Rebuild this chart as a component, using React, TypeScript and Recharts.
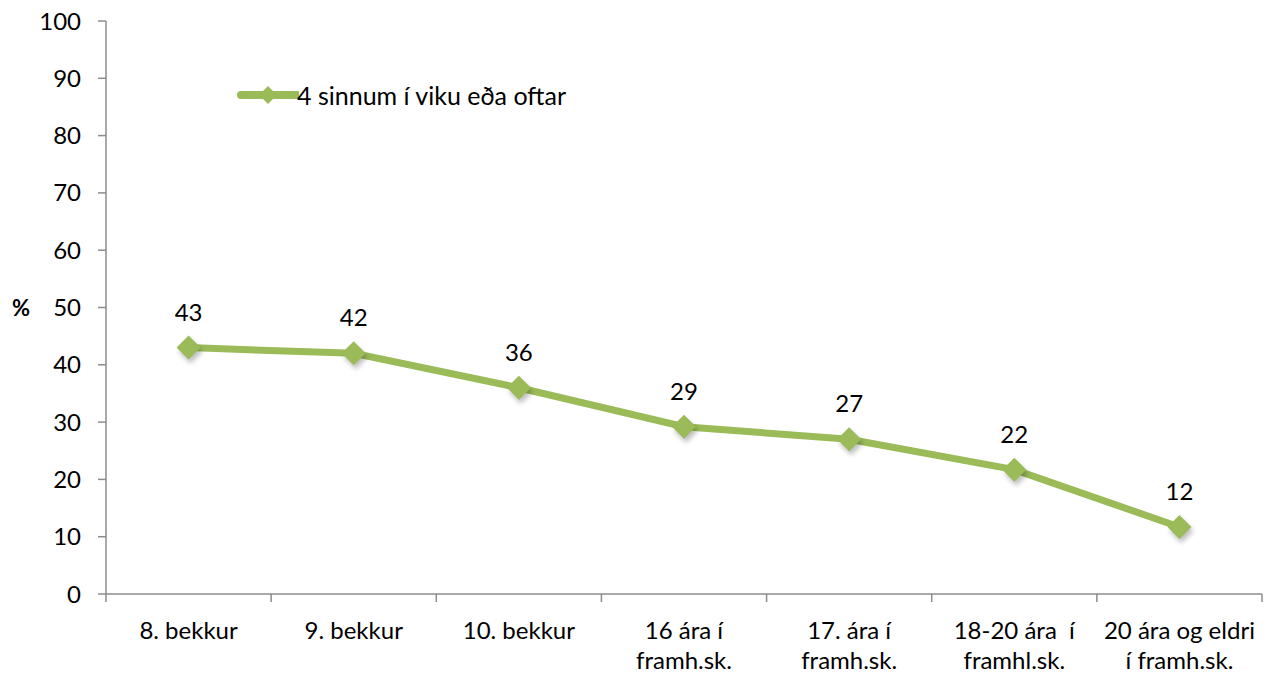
import React from "react";
import { LineChart, Line, XAxis, YAxis, LabelList, Label } from "recharts";

const categories = [
  "8. bekkur",
  "9. bekkur",
  "10. bekkur",
  "16 ára í\nframh.sk.",
  "17. ára í\nframh.sk.",
  "18-20 ára  í\nframhl.sk.",
  "20 ára og eldri\ní framh.sk.",
];
const values = [43, 42, 36, 29.2, 27, 21.7, 11.7];
const yTicks = [0, 10, 20, 30, 40, 50, 60, 70, 80, 90, 100];
const seriesName = "4 sinnum í viku eða oftar";

const GREEN = "#9BBB59";
const AXIS = "#8c8c8c";
const FONT = "Lato, 'Open Sans', sans-serif";
const FS = 24;

const W = 1274;
const H = 673;
const M = { top: 21, right: 12, left: 0, bottom: 0 };
const Y_W = 106;
const BAND = (W - M.left - M.right - Y_W) / categories.length;

// x position = middle of each category band on a 0..N numeric axis
const data = categories.map((name, i) => ({ name, pos: i + 0.5, value: values[i] }));
const boundaryTicks = categories.map((_, i) => i).concat(categories.length);

const Diamond = ({ cx, cy }: any) => {
  if (cx == null || cy == null) return null;
  const r = 12;
  return (
    <g>
      <polygon
        points={`${cx + 2},${cy - r + 4} ${cx + r + 2},${cy + 4} ${cx + 2},${cy + r + 4} ${cx - r + 2},${cy + 4}`}
        fill="#000"
        opacity={0.25}
        filter="url(#blur)"
      />
      <polygon
        points={`${cx},${cy - r} ${cx + r},${cy} ${cx},${cy + r} ${cx - r},${cy}`}
        fill={GREEN}
      />
    </g>
  );
};

const CatTick = ({ x, y, payload }: any) => {
  const idx = Number(payload.value);
  if (idx >= categories.length) return null;
  const cx = x + BAND / 2;
  const lines = categories[idx].split("\n");
  return (
    <text x={cx} y={y} textAnchor="middle" fontSize={FS} fill="#000" fontFamily={FONT}>
      {lines.map((l, i) => (
        <tspan key={i} x={cx} dy={i === 0 ? 35 : 30} style={{ whiteSpace: "pre" }}>
          {l}
        </tspan>
      ))}
    </text>
  );
};

const PercentLabel = ({ viewBox }: any) => {
  const y = viewBox.y + viewBox.height / 2;
  return (
    <text x={21} y={y} dy={8} textAnchor="middle" fontSize={22} fontWeight={700} fill="#000" fontFamily={FONT}>
      %
    </text>
  );
};

export default function App() {
  return (
    <div style={{ position: "absolute", left: 0, top: 0, width: W, height: H, background: "#fff" }}>
      <LineChart width={W} height={H} data={data} margin={M}>
        <defs>
          <filter id="blur" x="-50%" y="-50%" width="200%" height="200%">
            <feGaussianBlur stdDeviation="2.5" />
          </filter>
        </defs>
        <XAxis
          dataKey="pos"
          type="number"
          domain={[0, categories.length]}
          ticks={boundaryTicks}
          interval={0}
          tick={<CatTick />}
          tickSize={8}
          height={79}
          stroke={AXIS}
          strokeWidth={1.5}
        />
        <YAxis
          domain={[0, 100]}
          ticks={yTicks}
          width={Y_W}
          tickSize={8}
          tickMargin={17}
          stroke={AXIS}
          strokeWidth={1.5}
          tick={{ fontSize: FS, fill: "#000", fontFamily: FONT }}
        >
          <Label content={<PercentLabel />} />
        </YAxis>
        <Line
          dataKey="value"
          name={seriesName}
          stroke={GREEN}
          strokeWidth={7}
          dot={<Diamond />}
          activeDot={false}
          isAnimationActive={false}
        >
          <LabelList
            dataKey="value"
            position="top"
            offset={27}
            formatter={(v: any) => Math.round(Number(v))}
            style={{ fontSize: FS, fill: "#000", fontFamily: FONT }}
          />
        </Line>
      </LineChart>
      <div
        style={{
          position: "absolute",
          left: 237,
          top: 80,
          display: "flex",
          alignItems: "center",
          fontFamily: FONT,
          fontSize: 25,
          color: "#000",
        }}
      >
        <svg width={62} height={30}>
          <line x1={4} y1={15} x2={60} y2={15} stroke={GREEN} strokeWidth={8} strokeLinecap="round" />
          <polygon points="31,6 40,15 31,24 22,15" fill={GREEN} />
        </svg>
        <span style={{ marginLeft: -2 }}>{seriesName}</span>
      </div>
    </div>
  );
}
